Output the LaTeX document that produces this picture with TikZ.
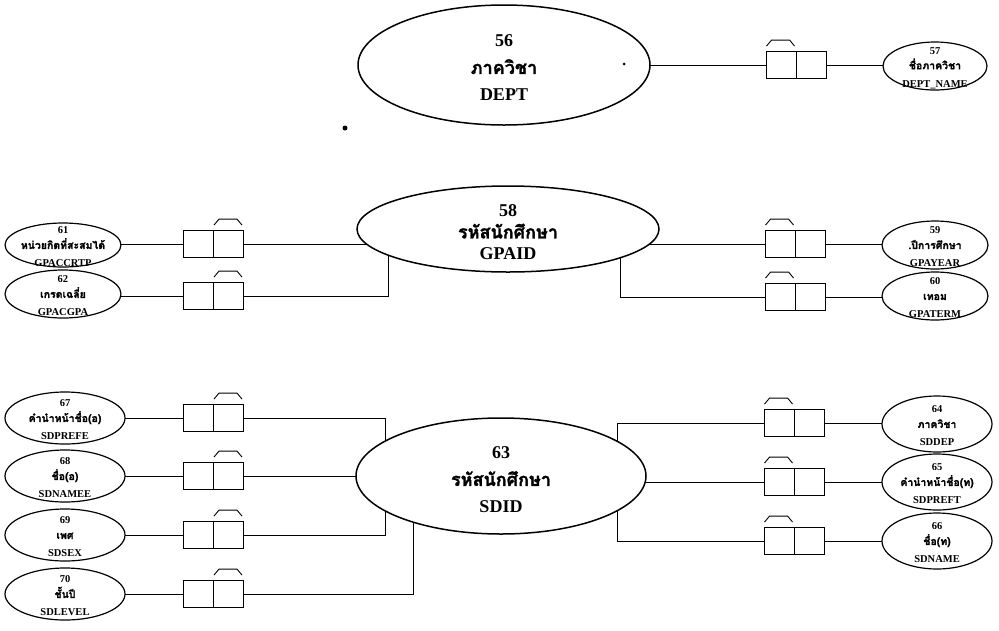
\documentclass[tikz,border=0pt]{standalone}
\usepackage{fontspec}
\setmainfont{Liberation Serif}
\newfontfamily\thai[Script=Thai,FakeBold=1.5]{Loma}
\usetikzlibrary{shapes.geometric,backgrounds}

\begin{document}
\begin{tikzpicture}[x=1pt,y=-1pt,
  ent/.style={draw,ellipse,line width=1.5pt,fill=white,inner sep=0pt},
  att/.style={draw,ellipse,line width=1.2pt,fill=white,inner sep=0pt},
  keybox/.style={draw,line width=0.9pt,fill=white,minimum width=60pt,minimum height=27pt,inner sep=0pt},
  conn/.style={line width=0.9pt},
  bigtxt/.style={font=\fontsize{18}{27}\selectfont\bfseries,align=center},
  smtxt/.style={font=\fontsize{10.5}{17}\selectfont\bfseries,align=center}]
  \useasboundingbox (0,0) rectangle (999,630);

  % DEPT
  \node[ent,minimum width=292pt,minimum height=120pt] (e56) at (504,65) {};
  \node[bigtxt] (t56) at ([yshift=-3]e56) {56\\{\thai ภาควิชา}\\DEPT};
  \node[keybox] (b57) at (796,65) {}; \draw (b57.north) -- (b57.south);
  \draw[conn] ([shift={(1,-5)}]b57.north west) -- ++(5,-6) -- ++(18,0) -- ++(5,6);
  \node[att,minimum width=104pt,minimum height=48pt] (e57) at (935,66) {};
  \node[smtxt] (t57) at ([yshift=-2]e57) {57\\[-2pt]{\thai ชื่อภาควิชา}\\[1pt]DEPT\_NAME};
  \fill (624,64) circle (1.5); \fill (345,128) circle (2.5);

  % GPAID
  \node[ent,minimum width=302pt,minimum height=86pt] (e58) at (508,229) {};
  \node[bigtxt,font=\fontsize{18}{21}\selectfont\bfseries] (t58) at ([yshift=-3]e58) {58\\[1pt]{\thai รหัสนักศึกษา}\\GPAID};
  \node[keybox] (b61) at (213,244) {}; \draw (b61.north) -- (b61.south);
  \draw[conn] ([shift={(1,-5)}]b61.north) -- ++(5,-6) -- ++(18,0) -- ++(5,6);
  \node[keybox] (b62) at (213,296) {}; \draw (b62.north) -- (b62.south);
  \draw[conn] ([shift={(1,-5)}]b62.north) -- ++(5,-6) -- ++(18,0) -- ++(5,6);
  \node[keybox] (b59) at (795,244) {}; \draw (b59.north) -- (b59.south);
  \draw[conn] ([shift={(1,-5)}]b59.north west) -- ++(5,-6) -- ++(18,0) -- ++(5,6);
  \node[keybox] (b60) at (795,297) {}; \draw (b60.north) -- (b60.south);
  \draw[conn] ([shift={(1,-5)}]b60.north west) -- ++(5,-6) -- ++(18,0) -- ++(5,6);
  \node[att,minimum width=116pt,minimum height=44pt] (e61) at (63,245) {};
  \node[smtxt] (t61) at ([yshift=-2]e61) {61\\[-2pt]{\thai หน่วยกิตที่สะสมได้}\\[1pt]GPACCRTP};
  \node[att,minimum width=116pt,minimum height=48pt] (e62) at (63,294) {};
  \node[smtxt] (t62) at ([yshift=-2]e62) {62\\[-2pt]{\thai เกรดเฉลี่ย}\\[1pt]GPACGPA};
  \node[att,minimum width=106pt,minimum height=48pt] (e59) at (935,245) {};
  \node[smtxt] (t59) at ([yshift=-2]e59) {59\\[-2pt]{\thai .ปีการศึกษา}\\[1pt]GPAYEAR};
  \node[att,minimum width=106pt,minimum height=48pt] (e60) at (935,296) {};
  \node[smtxt] (t60) at ([yshift=-2]e60) {60\\[-2pt]{\thai เทอม}\\[1pt]GPATERM};
  \coordinate (k62) at (388,296); \coordinate (k60) at (620,297);

  % SDID
  \node[ent,minimum width=290pt,minimum height=116pt] (e63) at (501,476) {};
  \node[bigtxt] (t63) at ([yshift=-4]e63) {63\\{\thai รหัสนักศึกษา}\\SDID};
  \node[keybox] (b67) at (213,418) {}; \draw (b67.north) -- (b67.south);
  \draw[conn] ([shift={(1,-5)}]b67.north) -- ++(5,-6) -- ++(18,0) -- ++(5,6);
  \node[keybox] (b68) at (213,476) {}; \draw (b68.north) -- (b68.south);
  \draw[conn] ([shift={(1,-5)}]b68.north) -- ++(5,-6) -- ++(18,0) -- ++(5,6);
  \node[keybox] (b69) at (213,535) {}; \draw (b69.north) -- (b69.south);
  \draw[conn] ([shift={(1,-5)}]b69.north) -- ++(5,-6) -- ++(18,0) -- ++(5,6);
  \node[keybox] (b70) at (213,594) {}; \draw (b70.north) -- (b70.south);
  \draw[conn] ([shift={(1,-5)}]b70.north) -- ++(5,-6) -- ++(18,0) -- ++(5,6);
  \node[keybox] (b64) at (794,423) {}; \draw (b64.north) -- (b64.south);
  \draw[conn] ([shift={(1,-5)}]b64.north west) -- ++(5,-6) -- ++(18,0) -- ++(5,6);
  \node[keybox] (b65) at (794,482) {}; \draw (b65.north) -- (b65.south);
  \draw[conn] ([shift={(1,-5)}]b65.north west) -- ++(5,-6) -- ++(18,0) -- ++(5,6);
  \node[keybox] (b66) at (794,541) {}; \draw (b66.north) -- (b66.south);
  \draw[conn] ([shift={(1,-5)}]b66.north west) -- ++(5,-6) -- ++(18,0) -- ++(5,6);
  \node[att,minimum width=120pt,minimum height=52pt] (e67) at (65,418) {};
  \node[smtxt] (t67) at ([yshift=-2]e67) {67\\[-2pt]{\thai คำนำหน้าชื่อ(อ)}\\[1pt]SDPREFE};
  \node[att,minimum width=120pt,minimum height=52pt] (e68) at (65,476) {};
  \node[smtxt] (t68) at ([yshift=-2]e68) {68\\[-2pt]{\thai ชื่อ(อ)}\\[1pt]SDNAMEE};
  \node[att,minimum width=120pt,minimum height=52pt] (e69) at (65,535) {};
  \node[smtxt] (t69) at ([yshift=-2]e69) {69\\[-2pt]{\thai เพศ}\\[1pt]SDSEX};
  \node[att,minimum width=120pt,minimum height=52pt] (e70) at (65,594) {};
  \node[smtxt] (t70) at ([yshift=-2]e70) {70\\[-2pt]{\thai ชั้นปี}\\[1pt]SDLEVEL};
  \node[att,minimum width=110pt,minimum height=56pt] (e64) at (937,424) {};
  \node[smtxt] (t64) at ([yshift=-2]e64) {64\\[-2pt]{\thai ภาควิชา}\\[1pt]SDDEP};
  \node[att,minimum width=110pt,minimum height=56pt] (e65) at (937,482) {};
  \node[smtxt] (t65) at ([yshift=-2]e65) {65\\[-2pt]{\thai คำนำหน้าชื่อ(ท)}\\[1pt]SDPREFT};
  \node[att,minimum width=110pt,minimum height=56pt] (e66) at (937,541) {};
  \node[smtxt] (t66) at ([yshift=-2]e66) {66\\[-2pt]{\thai ชื่อ(ท)}\\[1pt]SDNAME};
  \coordinate (k67) at (385,418); \coordinate (k69) at (385,535); \coordinate (k70) at (413,594);
  \coordinate (k64) at (617,423); \coordinate (k66) at (617,541);

  % connectors go behind the filled shapes
  \begin{pgfonlayer}{background}
    \fill[white] (0,0) rectangle (999,630);
    \draw[conn] (e56.center) -- (b57.west); \draw[conn] (b57.east) -- (b57.east -| e57.center);
    \draw[conn] (e61.center |- b61) -- (b61.west); \draw[conn] (b61.east) -- (b61.east -| e58.center);
    \draw[conn] (e62.center |- b62) -- (b62.west); \draw[conn] (b62.east) -- (k62) -- (k62 |- e58.center);
    \draw[conn] (e58.center |- b59) -- (b59.west); \draw[conn] (b59.east) -- (b59.east -| e59.center);
    \draw[conn] (b60.west) -- (k60) -- (k60 |- e58.center); \draw[conn] (b60.east) -- (b60.east -| e60.center);
    \draw[conn] (e67.center |- b67) -- (b67.west); \draw[conn] (b67.east) -- (k67) -- (k67 |- e63.center);
    \draw[conn] (e68.center |- b68) -- (b68.west); \draw[conn] (b68.east) -- (b68.east -| e63.center);
    \draw[conn] (e69.center |- b69) -- (b69.west); \draw[conn] (b69.east) -- (k69) -- (k69 |- e63.center);
    \draw[conn] (e70.center |- b70) -- (b70.west); \draw[conn] (b70.east) -- (k70) -- (k70 |- e63.center);
    \draw[conn] (b64.west) -- (k64) -- (k64 |- e63.center); \draw[conn] (b64.east) -- (b64.east -| e64.center);
    \draw[conn] (b65.west) -- (b65.west -| e63.center); \draw[conn] (b65.east) -- (b65.east -| e65.center);
    \draw[conn] (b66.west) -- (k66) -- (k66 |- e63.center); \draw[conn] (b66.east) -- (b66.east -| e66.center);
  \end{pgfonlayer}
\end{tikzpicture}
\end{document}
